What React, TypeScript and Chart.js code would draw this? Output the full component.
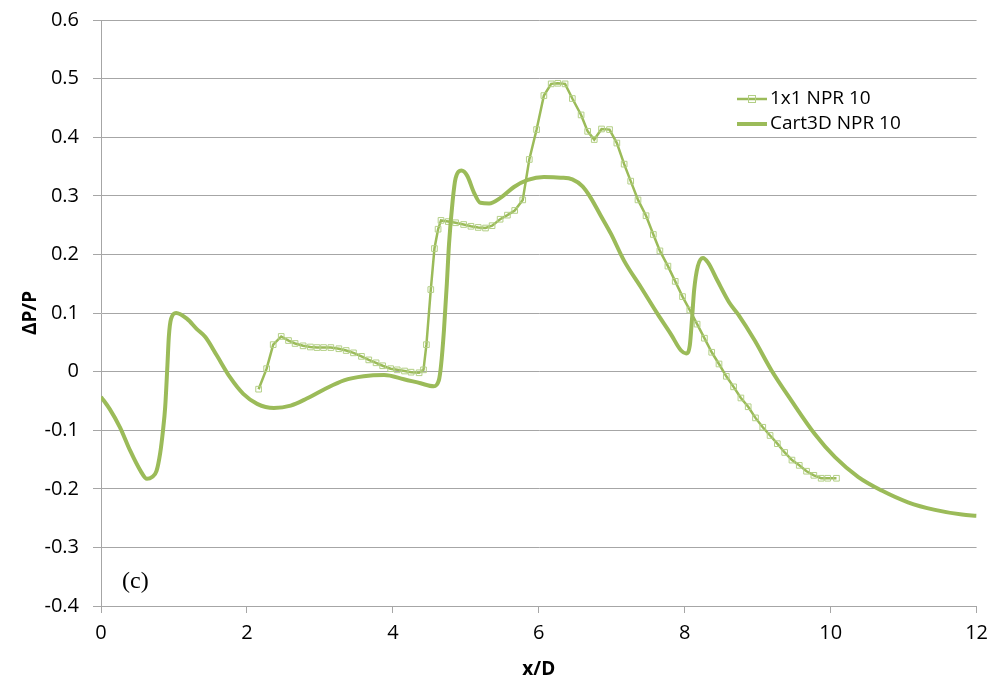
import React, { useEffect, useRef } from "react";
import { Chart, registerables } from "chart.js";
Chart.register(...registerables);

const seriesNames = ["1x1 NPR 10", "Cart3D NPR 10"];
const panelLabel = "(c)";
const xTitle = "x/D";
const yTitle = "ΔP/P";

const x1x1 = [
  2.16, 2.27, 2.36, 2.47, 2.57, 2.66, 2.77, 2.87, 2.96, 3.05, 3.15, 3.26, 3.36, 3.46, 3.57, 3.67, 3.77, 3.86, 3.97,
  4.06, 4.16, 4.25, 4.36, 4.42, 4.46, 4.52, 4.57, 4.62, 4.66, 4.76, 4.86, 4.97, 5.07, 5.17, 5.27, 5.36, 5.47, 5.57,
  5.67, 5.78, 5.87, 5.97, 6.07, 6.17, 6.26, 6.36, 6.46, 6.58, 6.67, 6.76, 6.86, 6.97, 7.07, 7.17, 7.26, 7.36, 7.47,
  7.57, 7.66, 7.77, 7.87, 7.97, 8.07, 8.17, 8.27, 8.37, 8.47, 8.57, 8.67, 8.77, 8.87, 8.97, 9.07, 9.17, 9.27, 9.37,
  9.47, 9.57, 9.67, 9.77, 9.87, 9.96, 10.08,
];
const y1x1 = [
  -0.03, 0.005, 0.046, 0.06, 0.053, 0.048, 0.044, 0.042, 0.041, 0.041, 0.041, 0.039, 0.036, 0.032, 0.026, 0.02, 0.015,
  0.01, 0.005, 0.003, 0.001, -0.001, -0.002, 0.003, 0.046, 0.14, 0.21, 0.243, 0.258, 0.256, 0.254, 0.251, 0.248, 0.246,
  0.245, 0.249, 0.26, 0.267, 0.275, 0.293, 0.362, 0.413, 0.471, 0.491, 0.492, 0.491, 0.466, 0.438, 0.41, 0.396, 0.414,
  0.413, 0.39, 0.354, 0.325, 0.293, 0.266, 0.234, 0.206, 0.18, 0.154, 0.128, 0.105, 0.081, 0.057, 0.033, 0.013, -0.008,
  -0.026, -0.045, -0.06, -0.079, -0.095, -0.109, -0.123, -0.138, -0.151, -0.16, -0.17, -0.177, -0.182, -0.182, -0.182,
];

const xCart = [
  0.0, 0.12, 0.26, 0.4, 0.54, 0.63, 0.7, 0.76, 0.81, 0.85, 0.88, 0.91, 0.93, 0.96, 1.03, 1.18, 1.31, 1.43, 1.59, 1.77,
  1.95, 2.14, 2.37, 2.6, 2.82, 3.05, 3.33, 3.6, 3.88, 4.15, 4.38, 4.56, 4.63, 4.66, 4.7, 4.74, 4.77, 4.82, 4.86, 4.94,
  5.02, 5.11, 5.2, 5.32, 5.48, 5.66, 5.85, 6.07, 6.3, 6.46, 6.6, 6.71, 6.85, 6.99, 7.17, 7.4, 7.63, 7.81, 7.95, 8.02,
  8.07, 8.1, 8.13, 8.18, 8.25, 8.32, 8.45, 8.61, 8.73, 8.96, 9.19, 9.46, 9.78, 10.06, 10.38, 10.7, 11.06, 11.43, 11.8,
  12.0,
];
const yCart = [
  -0.043, -0.064, -0.095, -0.135, -0.169, -0.183, -0.18, -0.17, -0.14, -0.1, -0.06, 0.01, 0.06, 0.09, 0.1, 0.09, 0.073,
  0.059, 0.027, -0.01, -0.038, -0.055, -0.062, -0.058, -0.046, -0.031, -0.015, -0.008, -0.006, -0.013, -0.02, -0.025,
  -0.015, 0.01, 0.07, 0.15, 0.218, 0.292, 0.33, 0.343, 0.334, 0.306, 0.288, 0.287, 0.297, 0.315, 0.327, 0.332, 0.331,
  0.328, 0.316, 0.297, 0.266, 0.235, 0.189, 0.144, 0.098, 0.064, 0.036, 0.031, 0.045, 0.09, 0.14, 0.18, 0.194, 0.186,
  0.155, 0.118, 0.098, 0.053, 0.002, -0.049, -0.106, -0.146, -0.18, -0.203, -0.223, -0.236, -0.244, -0.246,
];

const xMin = 0;
const xMax = 12;
const xStep = 2;
const yMin = -0.4;
const yMax = 0.6;
const yStep = 0.1;

const GREEN = "#9bbb59";
const MARKER = "#b3cf86";
const GRID = "#a6a6a6";
const FONT = "'Open Sans', 'DejaVu Sans', sans-serif";

const SHIFT_Y = 6;
const CANVAS_W = 996;
const CANVAS_H = 687 + SHIFT_Y;

const overlayPlugin = {
  id: "overlay",
  afterDraw(chart: any) {
    const ctx = chart.ctx;
    ctx.save();
    ctx.translate(0, SHIFT_Y);
    const lx0 = 737;
    const lx1 = 767;
    const rows = [99, 124];
    ctx.strokeStyle = GREEN;
    ctx.lineWidth = 2.5;
    ctx.beginPath();
    ctx.moveTo(lx0, rows[0]);
    ctx.lineTo(lx1, rows[0]);
    ctx.stroke();
    ctx.strokeStyle = MARKER;
    ctx.lineWidth = 1;
    ctx.strokeRect(752 - 3.5, rows[0] - 3.5, 7, 7);
    ctx.strokeStyle = GREEN;
    ctx.lineWidth = 4;
    ctx.beginPath();
    ctx.moveTo(lx0, rows[1]);
    ctx.lineTo(lx1, rows[1]);
    ctx.stroke();
    ctx.fillStyle = "#000";
    ctx.font = `19px ${FONT}`;
    ctx.textBaseline = "middle";
    ctx.textAlign = "left";
    ctx.fillText(seriesNames[0], 770, rows[0]);
    ctx.fillText(seriesNames[1], 770, rows[1]);
    ctx.font = "24px 'Liberation Serif', serif";
    ctx.fillText(panelLabel, 122, 582);
    ctx.restore();
  },
};

export default function App() {
  const ref = useRef<HTMLCanvasElement>(null);
  useEffect(() => {
    document.body.style.margin = "0";
    const canvas = ref.current!;
    const chart = new Chart(canvas, {
      type: "line",
      data: {
        datasets: [
          {
            label: seriesNames[0],
            data: x1x1.map((x, i) => ({ x, y: y1x1[i] })),
            borderColor: GREEN,
            borderWidth: 2.5,
            pointStyle: "rect",
            pointRadius: 4,
            pointBorderWidth: 1,
            pointBorderColor: MARKER,
            pointBackgroundColor: "rgba(255,255,255,0)",
            fill: false,
            tension: 0,
            order: 2,
          },
          {
            label: seriesNames[1],
            data: xCart.map((x, i) => ({ x, y: yCart[i] })),
            borderColor: GREEN,
            borderWidth: 4,
            pointRadius: 0,
            fill: false,
            cubicInterpolationMode: "monotone",
            order: 1,
          },
        ],
      },
      options: {
        responsive: false,
        animation: false,
        devicePixelRatio: 1,
        layout: { padding: { top: 14, right: 11, left: 0, bottom: 0 } },
        plugins: { legend: { display: false }, tooltip: { enabled: false } },
        scales: {
          x: {
            type: "linear",
            min: xMin,
            max: xMax,
            ticks: {
              stepSize: xStep,
              color: "#000",
              font: { size: 20, family: FONT },
              padding: 8,
              maxRotation: 0,
            },
            grid: { drawOnChartArea: false, drawTicks: true, tickLength: 7, color: GRID },
            border: { color: GRID, width: 1 },
            title: {
              display: true,
              text: xTitle,
              color: "#000",
              font: { size: 19, weight: "bold", family: FONT },
              padding: { top: 0, bottom: 6 },
            },
            afterFit(scale: any) {
              scale.height = 81;
            },
          },
          y: {
            type: "linear",
            min: yMin,
            max: yMax,
            ticks: {
              stepSize: yStep,
              color: "#000",
              font: { size: 20, family: FONT },
              padding: 14,
              callback: (v: any) => {
                const r = Math.round(Number(v) * 10) / 10;
                return r === 0 ? "0" : r.toFixed(1);
              },
            },
            grid: { color: GRID, lineWidth: 1, drawTicks: true, tickLength: 8 },
            border: { color: GRID, width: 1 },
            title: {
              display: true,
              text: yTitle,
              color: "#000",
              font: { size: 19, weight: "bold", family: FONT },
              padding: { top: 19, bottom: 0 },
            },
            afterFit(scale: any) {
              scale.width = 101;
            },
          },
        },
      },
      plugins: [overlayPlugin],
    } as any);
    return () => chart.destroy();
  }, []);
  return (
    <div style={{ width: 991, height: 687, overflow: "hidden", position: "relative" }}>
      <canvas
        ref={ref}
        width={CANVAS_W}
        height={CANVAS_H}
        style={{ display: "block", width: CANVAS_W, height: CANVAS_H, position: "absolute", left: 0, top: -SHIFT_Y }}
      />
    </div>
  );
}
